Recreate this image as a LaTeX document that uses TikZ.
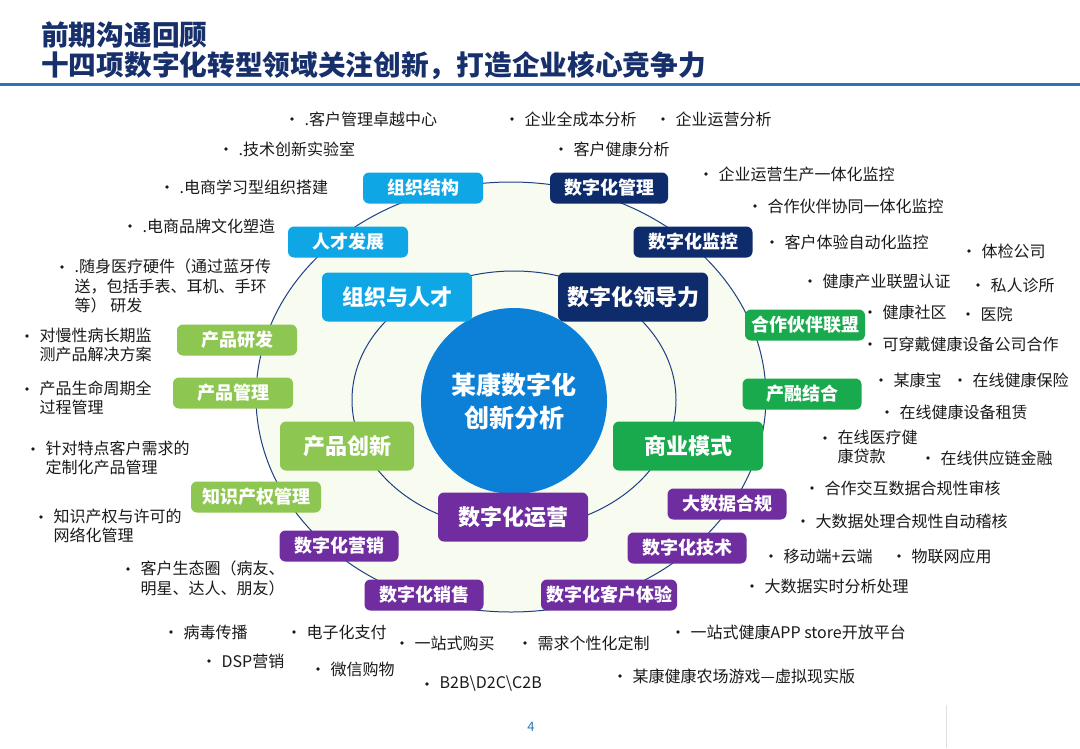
\documentclass[tikz,border=0pt]{standalone}
\usepackage{fontspec}
\setmainfont{Noto Sans CJK SC}
\definecolor{navyc}{HTML}{0E2B6C}
\definecolor{lblue}{HTML}{0FA6E6}
\definecolor{greenc}{HTML}{1AAA4E}
\definecolor{lgreen}{HTML}{8DC650}
\definecolor{purplec}{HTML}{6F2DA0}
\definecolor{titlec}{HTML}{17306B}
\definecolor{rulec}{HTML}{2E74B5}
\definecolor{ringc}{HTML}{1F3F85}
\definecolor{creamc}{HTML}{F7FBF0}
\definecolor{centerc}{HTML}{0B80D6}
\definecolor{txtc}{HTML}{1A1A1A}
\tikzset{
  x=1pt, y=-1pt,
  box/.style={rounded corners=6pt, text=white, inner sep=0pt, align=center,
    minimum height=31pt, font=\fontsize{18}{20}\selectfont\bfseries},
  bigbox/.style={box, minimum height=49pt, minimum width=150pt, font=\fontsize{22}{24}\selectfont\bfseries},
  bt/.style={anchor=west, inner sep=0pt, text=txtc, font=\fontsize{16}{19.6}\selectfont},
  mt/.style={anchor=north west, inner sep=0pt, align=left, text=txtc, font=\fontsize{16}{19.6}\selectfont},
  ring/.style={draw=ringc, line width=1pt, fill=creamc},
}
\newcommand\bitem[4]{\fill[txtc] (#2,#3) circle (1.8);
  \node[bt] (#1) at (#2+12.5,#3) {#4};}
\newcommand\mitem[4]{\fill[txtc] (#2,#3) circle (1.8);
  \node[mt] (#1) at (#2+12.5,#3-8.5) {#4};}
\begin{document}
\begin{tikzpicture}
\path[use as bounding box, fill=white] (0,0) rectangle (1080,748);
% title
\node[anchor=west, inner sep=0pt, text=titlec, font=\fontsize{27.7}{30}\selectfont\bfseries] (t1) at (41,35) {前期沟通回顾};
\node[anchor=west, inner sep=0pt, text=titlec, font=\fontsize{27.7}{30}\selectfont\bfseries] (t2) at (41,66) {十四项数字化转型领域关注创新，打造企业核心竞争力};
\fill[rulec] (0,82.5) rectangle (1080,85.5);
% rings
\draw[ring] (511,397) ellipse [x radius=255, y radius=215];
\draw[ring] (514,400) ellipse [x radius=162, y radius=129];
\node[circle, fill=centerc, minimum size=186pt, inner sep=0pt, text=white, align=center,
  font=\fontsize{25}{33}\selectfont\bfseries] (core) at (514,401) {某康数字化\\创新分析};
% light blue
\node[box, fill=lblue, minimum width=120pt] (zzjg) at (423,188) {组织结构};
\node[box, fill=lblue, minimum width=120pt] (rcfz) at (348,242) {人才发展};
\node[bigbox, fill=lblue] (zzyrc) at (397,297) {组织与人才};
% navy
\node[box, fill=navyc, minimum width=118pt] (szhgl) at (609,188) {数字化管理};
\node[box, fill=navyc, minimum width=119pt] (szhjk) at (693,242) {数字化监控};
\node[bigbox, fill=navyc] (szhldl) at (633,297) {数字化领导力};
% green
\node[box, fill=greenc, minimum width=120pt] (hzhb) at (805,325) {合作伙伴联盟};
\node[box, fill=greenc, minimum width=119pt] (crjh) at (802,394) {产融结合};
\node[bigbox, fill=greenc] (syms) at (688,446) {商业模式};
% light green
\node[box, fill=lgreen, minimum width=120pt] (cpyf) at (237,340) {产品研发};
\node[box, fill=lgreen, minimum width=120pt] (cpgl) at (233,393) {产品管理};
\node[bigbox, fill=lgreen, minimum width=134pt] (cpcx) at (347,446) {产品创新};
\node[box, fill=lgreen, minimum width=130pt] (zscq) at (256,497) {知识产权管理};
% purple
\node[box, fill=purplec, minimum width=119pt] (szhyx) at (339,546) {数字化营销};
\node[bigbox, fill=purplec] (szhyy) at (513,517) {数字化运营};
\node[box, fill=purplec, minimum width=119pt] (dsjhg) at (727,504) {大数据合规};
\node[box, fill=purplec, minimum width=119pt] (szhjs) at (687,548) {数字化技术};
\node[box, fill=purplec, minimum width=119pt] (szhxs) at (424,595) {数字化销售};
\node[box, fill=purplec, minimum width=136pt] (szhty) at (609,595) {数字化客户体验};
% left items
\bitem{l1}{292}{119}{.客户管理卓越中心}
\bitem{l2}{226}{149}{.技术创新实验室}
\bitem{l3}{167}{187}{.电商学习型组织搭建}
\bitem{l4}{130}{226}{.电商品牌文化塑造}
\mitem{l5}{62}{267}{.随身医疗硬件（通过蓝牙传\\送，包括手表、耳机、手环\\等） 研发}
\mitem{l6}{27}{336}{对慢性病长期监\\测产品解决方案}
\mitem{l7}{27}{389}{产品生命周期全\\过程管理}
\mitem{l8}{33}{449}{针对特点客户需求的\\定制化产品管理}
\mitem{l9}{41}{517}{知识产权与许可的\\网络化管理}
\mitem{l10}{128}{569}{客户生态圈（病友、\\明星、达人、朋友）}
% right items
\bitem{r1}{512}{119}{企业全成本分析}
\bitem{r2}{663}{119}{企业运营分析}
\bitem{r3}{561}{149}{客户健康分析}
\bitem{r4}{706}{174}{企业运营生产一体化监控}
\bitem{r5}{755}{206}{合作伙伴协同一体化监控}
\bitem{r6}{772}{242}{客户体验自动化监控}
\bitem{r7}{969}{251}{体检公司}
\bitem{r8}{810}{281}{健康产业联盟认证}
\bitem{r9}{978}{285}{私人诊所}
\bitem{r10}{870}{312}{健康社区}
\bitem{r11}{968}{314}{医院}
\bitem{r12}{870}{344}{可穿戴健康设备公司合作}
\bitem{r13}{881}{380}{某康宝}
\bitem{r14}{960}{380}{在线健康保险}
\bitem{r15}{887}{412}{在线健康设备租赁}
\mitem{r16}{825}{438}{在线医疗健\\康贷款}
\bitem{r17}{928}{458}{在线供应链金融}
\bitem{r18}{812}{488}{合作交互数据合规性审核}
\bitem{r19}{803}{521}{大数据处理合规性自动稽核}
\bitem{r20}{771}{556}{移动端+云端}
\bitem{r21}{899}{556}{物联网应用}
\bitem{r22}{752}{586}{大数据实时分析处理}
% bottom items
\bitem{b1}{171}{632}{病毒传播}
\bitem{b2}{294}{632}{电子化支付}
\bitem{b3}{402}{643}{一站式购买}
\bitem{b4}{525}{643}{需求个性化定制}
\bitem{b5}{678}{632}{一站式健康APP store开放平台}
\bitem{b6}{209}{661}{DSP营销}
\bitem{b7}{318}{669}{微信购物}
\bitem{b8}{427}{684}{B2B\textbackslash D2C\textbackslash C2B}
\bitem{b9}{620}{676}{某康健康农场游戏—虚拟现实版}
% footer
\node[inner sep=0pt, text=rulec, font=\fontsize{13}{15}\selectfont] (pg) at (531,727) {4};
\draw[black!12, line width=1pt] (946,705) -- (946,748);
\end{tikzpicture}
\end{document}
